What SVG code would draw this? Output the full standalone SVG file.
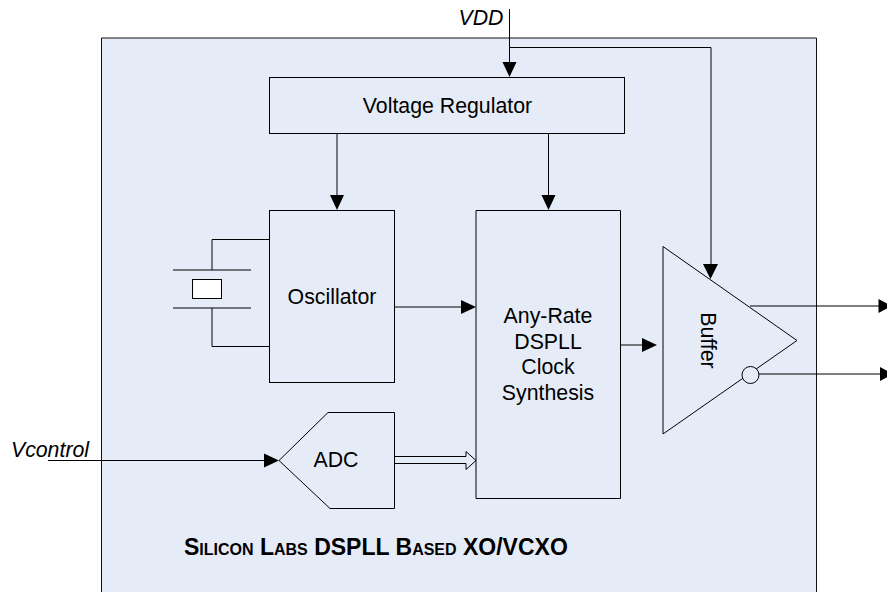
<svg xmlns="http://www.w3.org/2000/svg" width="887" height="592" viewBox="0 0 887 592">
<style>
.s{fill:none;stroke:#000;stroke-width:1}
.b{fill:#e6ecf7;stroke:#000;stroke-width:1}
.t{font-family:"Liberation Sans",Arial,sans-serif;font-size:21.300px;fill:#000;text-anchor:middle}
.i{font-style:italic}
.h{fill:#000;stroke:none}
</style>
<rect width="887" height="592" fill="#fff"/>
<g id="container"><path d="M101.500 592V38H816.500V592" fill="#e6ecf7" stroke="#111" stroke-width="1"/></g>
<g id="regulator"><rect class="b" x="269.500" y="77.500" width="355" height="56"/><text class="t" x="447.500" y="113">Voltage Regulator</text></g>
<g id="oscillator"><rect class="b" x="269.500" y="210.500" width="125" height="172"/><text class="t" x="332" y="304">Oscillator</text></g>
<g id="crystal">
<path class="s" d="M269 239.500H212V270M173 270H251M173 308H251M212 308V346.500H269"/>
<rect x="192.500" y="279.500" width="29" height="19" fill="#fff" stroke="#000"/>
</g>
<g id="dspll"><path class="b" d="M476 210.500H620.500V498.500H476Z"/><text class="t" x="548" y="323">Any-Rate</text><text class="t" x="548" y="349">DSPLL</text><text class="t" x="548" y="374">Clock</text><text class="t" x="548" y="400">Synthesis</text></g>
<g id="adc"><path class="b" d="M279 460.500L328 412.500H394.500V508.500H330Z"/><text class="t" x="336" y="467">ADC</text></g>
<g id="buffer"><path class="b" d="M663 246.500L797 340.500L663 434Z"/><text class="t" transform="translate(701 340.500) rotate(90)">Buffer</text><circle cx="750.500" cy="375" r="8.500" fill="#e6ecf7" stroke="#000"/></g>
<g id="connectors">
<path class="s" d="M48 460.500H265M509.500 9V64M509.500 47.500H711V265M337 133V196M548.500 133V196M394 307H461M620 345H643M750 306H879M759 374H880"/>
<path class="h" d="M279 460.500L264 453.500V467.500ZM509.500 77L502.500 62H516.500ZM710.500 279L703 264H718ZM337 210L330 195H344ZM548.500 210L541.500 195H555.500ZM476 307L461 300V314ZM657 345L642 338V352ZM892 306L878.500 299V313ZM893 374L880 367V381Z"/>
<path class="s" d="M394 456.500H466V451.500L476 460.500L466 469.500V463.500H394"/>
</g>
<g id="labels">
<text class="t i" x="481" y="25">VDD</text>
<text class="t i" x="50" y="456.500">Vcontrol</text>
<text x="184" y="555" style="font-family:'Liberation Sans',Arial,sans-serif;font-weight:bold;font-size:23px;font-variant:small-caps">Silicon Labs DSPLL Based XO/VCXO</text>
</g>
</svg>
